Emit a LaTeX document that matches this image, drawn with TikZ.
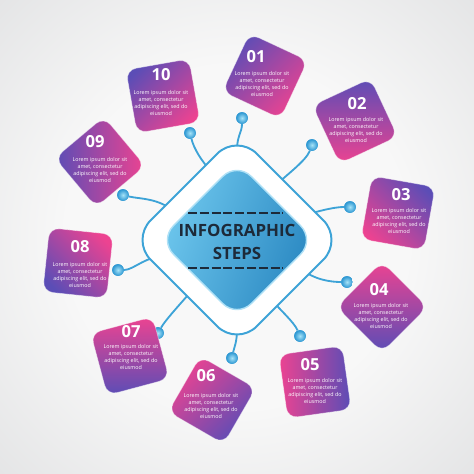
\documentclass[tikz,border=0pt]{standalone}
\usepackage{fontspec}
\setmainfont{Open Sans}

\definecolor{stepPink}{HTML}{EC4391}
\definecolor{stepPurple}{HTML}{5B4DB6}
\definecolor{wireBlue}{HTML}{3DA3D7}
\definecolor{coreLight}{HTML}{6FC8EE}
\definecolor{coreDark}{HTML}{2987C1}
\definecolor{titleInk}{HTML}{1D2A39}
\definecolor{bgIn}{HTML}{F8F8F8}
\definecolor{bgOut}{HTML}{D4D5D7}
\definecolor{knobLight}{HTML}{A6E3F7}
\definecolor{knobDark}{HTML}{2B96D2}

\pgfdeclareradialshading{bgglow}{\pgfpoint{0bp}{0bp}}{color(0bp)=(bgIn); color(18bp)=(bgIn); color(50bp)=(bgOut); color(72bp)=(bgOut)}

\newcommand{\loremtext}{Lorem ipsum dolor sit\\amet, consectetur\\adipiscing elit, sed do\\eiusmod}

\begin{document}
\begin{tikzpicture}[x=0.025cm, y=-0.025cm]
    \tikzstyle{stepbox} = [shape=rectangle, rounded corners=0.25cm, minimum size=1.6cm, draw=white, draw opacity=0.45, line width=0.5pt, top color=stepPurple, bottom color=stepPink]
    \tikzstyle{stepnum} = [text=white, inner sep=0pt, font=\bfseries\fontsize{11.8}{12}\selectfont]
    \tikzstyle{steptext} = [text=white, inner sep=0pt, align=center, font=\fontsize{3.8}{5.2}\selectfont]
    \tikzstyle{knob} = [shape=circle, minimum size=0.29cm, inner sep=0pt, inner color=knobLight, outer color=knobDark]
    \tikzstyle{wire} = [draw=wireBlue, line width=1.3pt]

    \shade[shading=bgglow] (0,0) rectangle (474,474);

    % wires from the frame out to the knobs
    \coordinate (w01) at (237,150);  \node[knob] (k01) at (242,118) {};
    \coordinate (w02) at (275,186);  \node[knob] (k02) at (312,145) {};
    \coordinate (w03) at (305,215);  \node[knob] (k03) at (350,207) {};
    \coordinate (w04) at (300,268);  \node[knob] (k04) at (347,282) {};
    \coordinate (w05) at (270,298);  \node[knob] (k05) at (300,336) {};
    \coordinate (w06) at (237,330);  \node[knob] (k06) at (232,358) {};
    \coordinate (w07) at (194,288);  \node[knob] (k07) at (158,333) {};
    \coordinate (w08) at (164,258);  \node[knob] (k08) at (118,270) {};
    \coordinate (w09) at (174,212);  \node[knob] (k09) at (123,195) {};
    \coordinate (w10) at (212,172);  \node[knob] (k10) at (190,133) {};

    \draw[wire] (w01) .. controls +(0,-14) and +(0,14) .. (k01);
    \draw[wire] (w02) .. controls +(10,-10) and +(-6,16) .. (k02);
    \draw[wire] (w03) .. controls +(14,-4) and +(-16,0) .. (k03);
    \draw[wire] (w04) .. controls +(14,12) and +(-16,0) .. (k04);
    \draw[wire] (w05) .. controls +(10,12) and +(-6,-14) .. (k05);
    \draw[wire] (w06) .. controls +(0,12) and +(2,-10) .. (k06);
    \draw[wire] (w07) .. controls +(-10,12) and +(8,-14) .. (k07);
    \draw[wire] (w08) .. controls +(-16,-4) and +(16,0) .. (k08);
    \draw[wire] (w09) .. controls +(-14,-14) and +(16,4) .. (k09);
    \draw[wire] (w10) .. controls +(-10,-10) and +(4,16) .. (k10);
    \node[knob] at (k01) {};  \node[knob] at (k02) {};  \node[knob] at (k03) {};
    \node[knob] at (k04) {};  \node[knob] at (k05) {};  \node[knob] at (k06) {};
    \node[knob] at (k07) {};  \node[knob] at (k08) {};  \node[knob] at (k09) {};
    \node[knob] at (k10) {};

    % central frame and core
    \node[shape=rectangle, rotate=45, rounded corners=0.7cm, minimum size=3.75cm, draw=wireBlue, line width=1.4pt, fill=white] (frame) at (237,240) {};
    \node[shape=rectangle, rotate=45, rounded corners=0.5cm, minimum size=2.75cm, draw=coreLight!55!white, line width=1pt, top color=coreLight, bottom color=coreDark, shading angle=70] (core) at (237,240) {};

    \node[text=titleInk, align=center, font=\bfseries\fontsize{12}{17}\selectfont] (title) at (237,242) {INFOGRAPHIC\\STEPS};
    \draw[titleInk, line width=0.9pt, dash pattern=on 6.4pt off 2pt] (188,213) -- (283,213);
    \draw[titleInk, line width=0.9pt, dash pattern=on 6.4pt off 2pt] (188,268) -- (283,268);

    % step boxes
    \node[stepbox, rotate=-25, shading angle=45]   (s01) at (265,76)  {};
    \node[stepbox, rotate=25,  shading angle=0]    (s02) at (355,121) {};
    \node[stepbox, rotate=-10, shading angle=-45]  (s03) at (398,213) {};
    \node[stepbox, rotate=45,  shading angle=180]  (s04) at (382,307) {};
    \node[stepbox, rotate=8,   shading angle=-90]  (s05) at (315,382) {};
    \node[stepbox, rotate=-30, shading angle=-135] (s06) at (212,400) {};
    \node[stepbox, rotate=15,  shading angle=180]  (s07) at (130,356) {};
    \node[stepbox, rotate=-6,  shading angle=135]  (s08) at (78,263)  {};
    \node[stepbox, rotate=40,  shading angle=90]   (s09) at (100,162) {};
    \node[stepbox, rotate=10,  shading angle=45]   (s10) at (163,96)  {};

    \node[stepnum] (n01) at (256,57)  {01};  \node[steptext] (t01) at (262,84)  {\loremtext};
    \node[stepnum] (n02) at (357,104) {02};  \node[steptext] (t02) at (356,130) {\loremtext};
    \node[stepnum] (n03) at (401,195) {03};  \node[steptext] (t03) at (399,221) {\loremtext};
    \node[stepnum] (n04) at (379,290) {04};  \node[steptext] (t04) at (381,316) {\loremtext};
    \node[stepnum] (n05) at (310,365) {05};  \node[steptext] (t05) at (315,391) {\loremtext};
    \node[stepnum] (n06) at (206,376) {06};  \node[steptext] (t06) at (211,406) {\loremtext};
    \node[stepnum] (n07) at (131,332) {07};  \node[steptext] (t07) at (131,357) {\loremtext};
    \node[stepnum] (n08) at (80,247)  {08};  \node[steptext] (t08) at (80,275)  {\loremtext};
    \node[stepnum] (n09) at (95,142)  {09};  \node[steptext] (t09) at (100,170) {\loremtext};
    \node[stepnum] (n10) at (161,75)  {10};  \node[steptext] (t10) at (161,103) {\loremtext};
\end{tikzpicture}
\end{document}
